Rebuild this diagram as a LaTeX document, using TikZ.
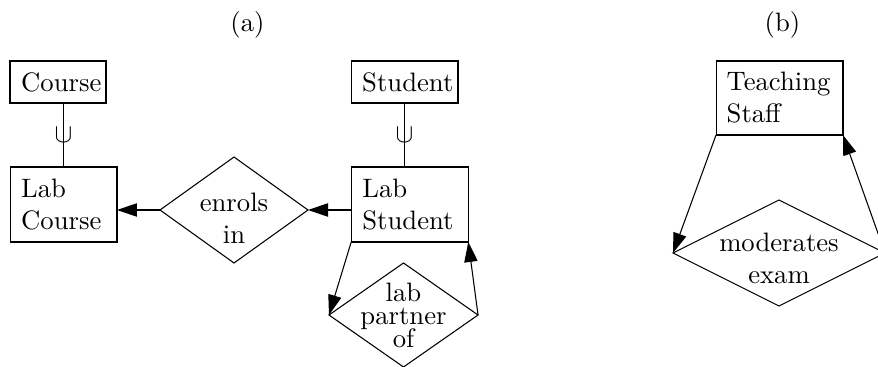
\documentclass[tikz,border=0pt]{standalone}
\usetikzlibrary{shapes.geometric,arrows.meta}

\tikzset{
  entity/.style={draw, rectangle, inner xsep=4pt, inner ysep=0pt, outer sep=0pt,
    align=left, anchor=center},
  rel/.style={draw, diamond, inner sep=0pt, outer sep=0pt},
  reltext/.style={align=center, inner sep=0pt},
  arr/.style={-{Triangle[length=7.5pt,width=5pt]}},
  subsetmark/.style={inner sep=0pt, outer sep=0pt}
}

\begin{document}
\begin{tikzpicture}[x=0.375pt,y=-0.375pt]
  \useasboundingbox (0,0) rectangle (878,367);
  \clip (0,0) rectangle (878,367);

  % captions
  \node (capa) at (247.5,25) {(a)};
  \node (capb) at (782.5,25) {(b)};

  % (a) entities
  \node[entity, text width=27.6pt, minimum width=36pt, minimum height=15.75pt]
    (course) at (58,82) {Course};
  \node[entity, text width=31.7pt, minimum width=40.1pt, minimum height=28.1pt]
    (labcourse) at (63.5,204.5) {Lab\\Course};
  \node[entity, text width=31.7pt, minimum width=40.1pt, minimum height=15.75pt]
    (student) at (404.5,82) {Student};
  \node[entity, text width=35.5pt, minimum width=43.9pt, minimum height=28.1pt]
    (labstudent) at (409.75,204.5) {Lab\\Student};

  % (a) relationships
  \node[rel, minimum width=55.5pt, minimum height=39.75pt,
    label={[reltext, yshift=-3pt]center:enrols\\in}]
    (enrols) at (234,210) {};
  \node[rel, minimum width=55.9pt, minimum height=39pt,
    label={[reltext, yshift=-0.2pt]center:lab\\[-3.5pt]partner\\[-3.5pt]of}]
    (partner) at (403.5,315) {};

  % subclass links
  \draw (course.south -| labcourse.north) -- (labcourse.north)
    node[subsetmark, pos=0.5] (cupa) {$\cup$};
  \draw (student.south) -- (student.south |- labstudent.north)
    node[subsetmark, pos=0.5] (cupb) {$\cup$};

  % (a) connectors, kept horizontal at the diamond's height
  \draw[arr] (enrols.east -| labstudent.west) -- (enrols.east);
  \draw[arr] (enrols.west) -- (enrols.west -| labcourse.east);
  \draw[arr] (labstudent.south west) -- (partner.west);
  \draw[arr] (partner.east) -- (labstudent.south east);

  % (b)
  \node[entity, text width=39.6pt, minimum width=47.6pt, minimum height=27.75pt]
    (staff) at (779.5,98) {Teaching\\Staff};
  \node[rel, minimum width=79.5pt, minimum height=39.75pt,
    label={[reltext, yshift=-1.9pt]center:moderates\\exam}]
    (moderates) at (779,253) {};
  \draw[arr] (staff.south west) -- (moderates.west);
  \draw[arr] (moderates.east) -- (staff.south east);
\end{tikzpicture}
\end{document}
